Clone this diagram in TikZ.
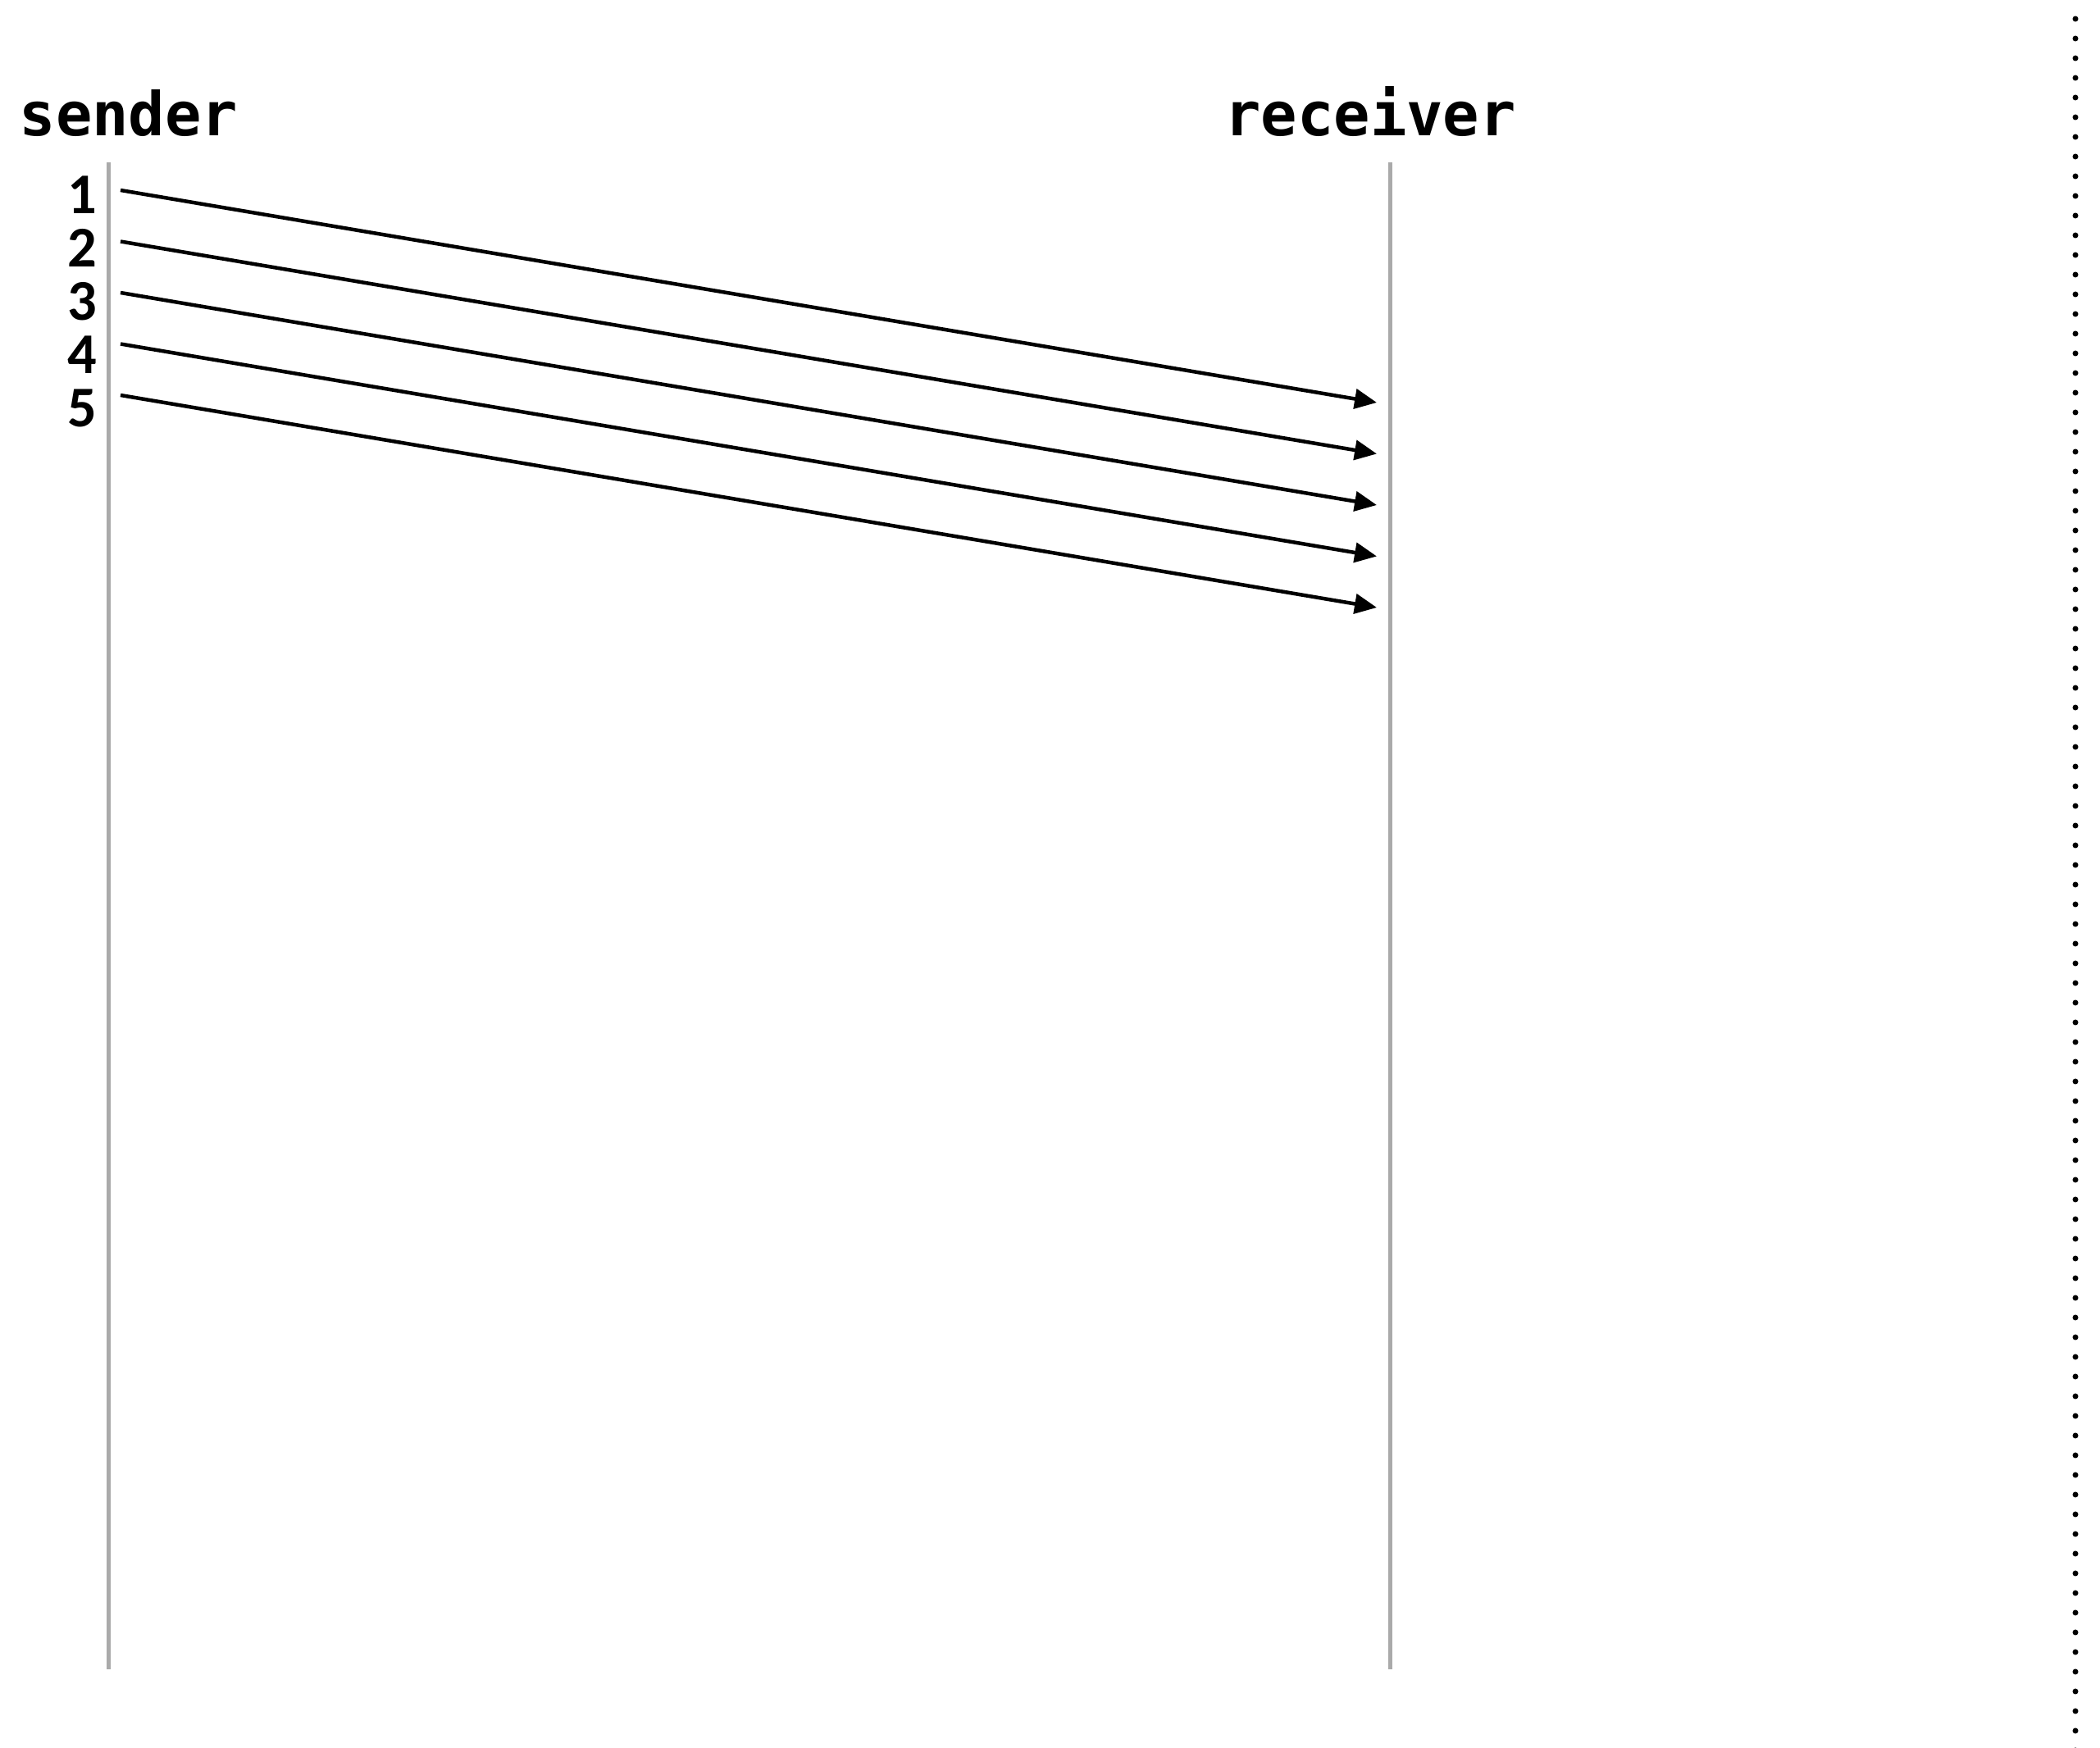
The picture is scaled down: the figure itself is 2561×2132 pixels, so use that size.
\documentclass[tikz,border=0pt]{standalone}
\usepackage{fontspec}
\setmonofont{DejaVu Sans Mono}
\newfontfamily\numfont{Carlito}
\usetikzlibrary{arrows.meta}

\definecolor{lifegray}{HTML}{AAAAAA}

\tikzset{
	lifeline/.style={draw=lifegray, line width=0.5mm},
	msg/.style={line width=0.45mm, -{Triangle[length=2.7mm, width=2.4mm]}},
	party/.style={anchor=base, inner sep=0pt, font=\ttfamily\bfseries\fontsize{21}{25}\selectfont},
	seqno/.style={anchor=base east, inner sep=0pt, font=\numfont\bfseries\fontsize{20}{24}\selectfont},
}

\begin{document}
\begin{tikzpicture}[x=0.1mm, y=-0.1mm]
		\useasboundingbox (0,0) rectangle (2561,2132);

		% the two lifelines
		\coordinate (sendtop) at (132,198);
		\coordinate (sendbot) at (132,2036);
		\coordinate (recvtop) at (1695,198);
		\coordinate (recvbot) at (1695,2036);
		\draw[lifeline] (sendtop) -- (sendbot);
		\draw[lifeline] (recvtop) -- (recvbot);

		\node[party] (sender) at (157,166) {sender};
		\node[party] (receiver) at (1671,166) {receiver};

		% packets in flight
		\foreach \n [count=\i from 0] in {1,2,3,4,5} {
			\coordinate (out\n) at (147, 232+62.5*\i);
			\coordinate (in\n) at (1679, 491+62.5*\i);
			\node[seqno] (num\n) at (119, 261+65*\i) {\n};
			\draw[msg] (out\n) -- (in\n);
		}

		% dotted edge on the right
		\coordinate (edgetop) at (2531,23);
		\coordinate (edgebot) at (2531,2140);
		\draw[line width=0.7mm, line cap=round, dash pattern=on 0pt off 2.4mm] (edgetop) -- (edgebot);
	\end{tikzpicture}
\end{document}
